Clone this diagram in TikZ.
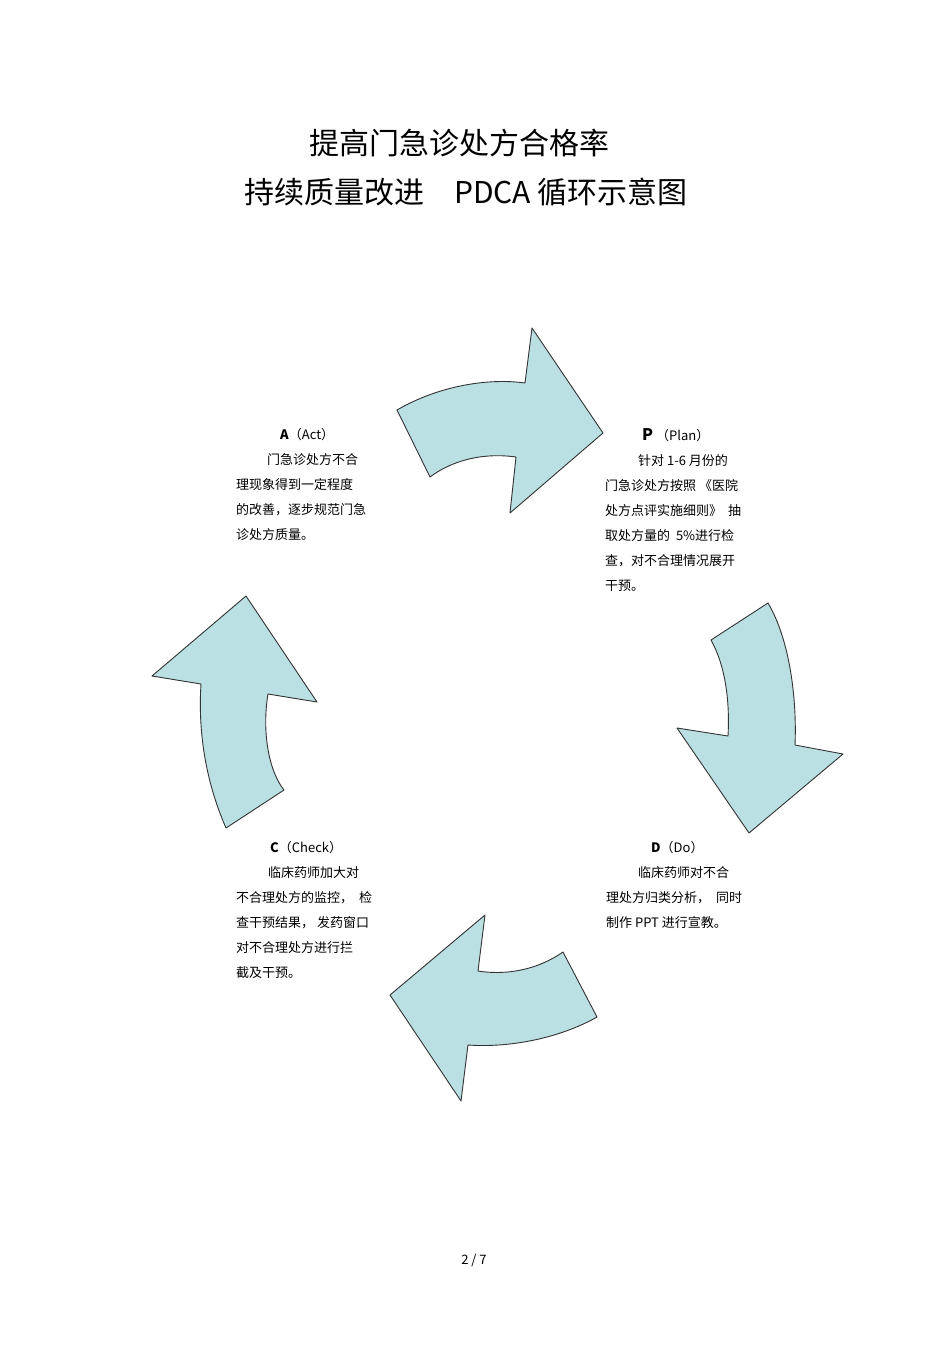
\documentclass[tikz,border=0pt]{standalone}
\usepackage{fontspec}
\setmainfont{Noto Sans CJK SC}
\begin{document}
\begin{tikzpicture}[x=1pt,y=-1pt,
 arr/.style={fill=cyan!10!teal!25!white,fill=arrowfill,draw=black!80,line width=0.9pt,line join=round},
 blk/.style={anchor=north west,align=left,font=\fontsize{13}{25}\selectfont,inner sep=0pt},
 ttl/.style={font=\fontsize{30}{36}\selectfont,inner sep=0pt}]
\definecolor{arrowfill}{HTML}{BAE0E3}
\useasboundingbox (0,0) rectangle (950,1345);
\node[ttl] (t1) at (459,143) {提高门急诊处方合格率};
\node[ttl] (t2) at (466,192) {持续质量改进\quad PDCA 循环示意图};
% arrows
\draw[arr] (397,410) .. controls (440,385) and (490,378) .. (525,383) -- (532,328) -- (603,433) -- (510,513) -- (516,457) .. controls (480,452) and (450,462) .. (430,477) -- cycle;
\draw[arr] (711,640) -- (768,603) .. controls (790,640) and (797,700) .. (795,745) -- (843,754) -- (749,833) -- (677,728) -- (728,736) .. controls (730,700) and (725,665) .. (711,640) -- cycle;
\draw[arr] (485,915) -- (478,971) .. controls (510,976) and (540,968) .. (563,952) -- (597,1017) .. controls (560,1038) and (510,1048) .. (468,1045) -- (461,1101) -- (390,995) -- cycle;
\draw[arr] (246,596) -- (317,702) -- (268,694) .. controls (262,730) and (268,770) .. (284,790) -- (226,828) .. controls (205,780) and (198,730) .. (201,684) -- (152,676) -- cycle;
% texts
\node[blk] (a) at (236,428) {\hspace{44pt}\textbf{A}（Act）\\\hspace{31pt}门急诊处方不合\\理现象得到一定程度\\的改善，逐步规范门急\\诊处方质量。};
\node[blk] (p) at (605,428) {\hspace{37pt}{\fontsize{16}{25}\selectfont\textbf{P}}\ （Plan）\\\hspace{33pt}针对 1-6 月份的\\门急诊处方按照 《医院\\处方点评实施细则》 \ 抽\\取处方量的 \ 5\%进行检\\查，对不合理情况展开\\干预。};
\node[blk] (d) at (606,841) {\hspace{45pt}\textbf{D}（Do）\\\hspace{32pt}临床药师对不合\\理处方归类分析， \ 同时\\制作 PPT 进行宣教。};
\node[blk] (c) at (236,841) {\hspace{34pt}\textbf{C}（Check）\\\hspace{32pt}临床药师加大对\\不合理处方的监控， \ 检\\查干预结果， 发药窗口\\对不合理处方进行拦\\截及干预。};
\node[font=\fontsize{13}{15}\selectfont] (pg) at (474,1260) {2 / 7};
\end{tikzpicture}
\end{document}
